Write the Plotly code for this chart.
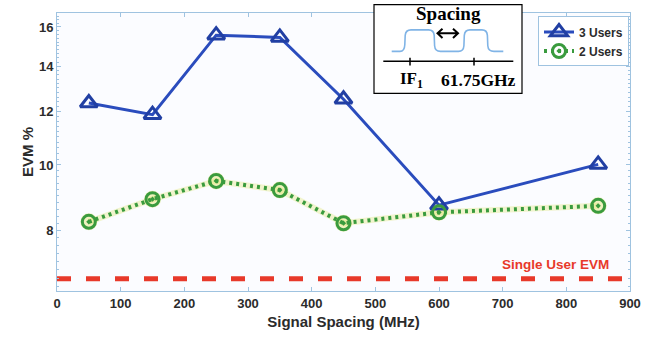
import numpy as np
import plotly.graph_objects as go

# Signal spacing (MHz) and measured EVM (%)
spacing_mhz = [50, 150, 250, 350, 450, 600, 850]
evm_3_users = [12.35, 11.87, 15.56, 15.44, 12.51, 8.72, 10.02]
evm_2_users = [8.24, 8.90, 9.47, 9.18, 8.20, 8.51, 8.70]
single_user_evm = 6.79
x_span = [0, 900]

x_ticks = [0, 100, 200, 300, 400, 500, 600, 700, 800, 900]
y_ticks = [8, 10, 12, 14, 16]

W, H = 653, 339
ML, MR, MT, MB = 57, 23, 13, 46
PW, PH = W - ML - MR, H - MT - MB

BLUE = "#2a4cbd"
GREEN = "#3a9b3e"
RED = "#e8392a"
FRAME = "#9fc3e0"
LABEL = "#2b2b2b"
SANS = "Liberation Sans, Arial, sans-serif"
SERIF = "Liberation Serif, Times New Roman, serif"


def px(x):
    return (x - ML) / PW


def py(y):
    return (MT + PH - y) / PH


def paper_path(segments):
    """Build an SVG path in paper units from (cmd, x, y, ...) pixel tuples."""
    parts = []
    for seg in segments:
        cmd, coords = seg[0], seg[1:]
        pts = [f"{px(coords[i]):.5f},{py(coords[i + 1]):.5f}"
               for i in range(0, len(coords), 2)]
        parts.append(cmd + " ".join(pts))
    return " ".join(parts)


fig = go.Figure()

# faint yellow fringe under the 2-user curve
fig.add_trace(go.Scatter(
    x=spacing_mhz, y=evm_2_users, mode="lines+markers", showlegend=False,
    hoverinfo="skip",
    line=dict(color="rgba(220,225,90,0.3)", width=6),
    marker=dict(symbol="circle", size=17, color="rgba(225,228,110,0.45)",
                line=dict(width=0)),
))

fig.add_trace(go.Scatter(
    x=spacing_mhz, y=evm_3_users, mode="lines+markers", name="3 Users",
    line=dict(color=BLUE, width=3),
    marker=dict(symbol="triangle-up-open", size=15, color="#213fa3",
                line=dict(width=3)),
))

fig.add_trace(go.Scatter(
    x=spacing_mhz, y=evm_2_users, mode="lines+markers", name="2 Users",
    line=dict(color=GREEN, width=4, dash="3px,4px"),
    marker=dict(symbol="circle-open-dot", size=13, color=GREEN,
                line=dict(width=3)),
))

fig.add_trace(go.Scatter(
    x=x_span, y=[single_user_evm, single_user_evm], mode="lines",
    showlegend=False, line=dict(color=RED, width=5, dash="14px,15px"),
))

fig.add_annotation(
    xref="paper", yref="paper", x=px(611), y=py(266), xanchor="right",
    yanchor="middle", text="Single User EVM", showarrow=False,
    font=dict(family=SANS, size=13.5, color=RED, weight="bold"),
)

# inset sketch: two channels separated by the signal spacing
shapes = [
    dict(type="rect", xref="paper", yref="paper",
         x0=px(374), x1=px(522), y0=py(94), y1=py(4.5),
         line=dict(color="black", width=1.2), fillcolor="white", layer="above"),
]

band = [
    ("M", 391.7, 51.7), ("L", 400, 51.7), ("Q", 404.5, 51.7, 404.8, 45),
    ("L", 405.2, 35.5), ("Q", 405.6, 30, 411, 30), ("L", 428.5, 30),
    ("Q", 433.8, 30, 434.2, 35.5), ("L", 434.6, 46), ("Q", 435, 51.7, 440.5, 51.7),
    ("L", 458.5, 51.7), ("Q", 463.5, 51.7, 463.9, 46), ("L", 464.3, 35.5),
    ("Q", 464.7, 30, 470, 30), ("L", 482, 30), ("Q", 487, 30, 487.4, 35.5),
    ("L", 487.8, 46), ("Q", 488.2, 51.7, 494, 51.7), ("L", 503.3, 51.7),
]
shapes.append(dict(type="path", xref="paper", yref="paper",
                   path=paper_path(band),
                   line=dict(color="#80b4e6", width=1.6), layer="above"))

# double-headed arrow marking the spacing
arrow = [
    ("M", 437.5, 33.5), ("L", 458, 33.5),
    ("M", 442.5, 28.8), ("L", 437.5, 33.5), ("L", 442.5, 38.2),
    ("M", 453, 28.8), ("L", 458, 33.5), ("L", 453, 38.2),
]
shapes.append(dict(type="path", xref="paper", yref="paper",
                   path=paper_path(arrow),
                   line=dict(color="black", width=2), layer="above"))

shapes.append(dict(type="line", xref="paper", yref="paper",
                   x0=px(383.3), x1=px(513.3), y0=py(61.7), y1=py(61.7),
                   line=dict(color="black", width=1.5), layer="above"))
for tx in (410, 474):
    shapes.append(dict(type="line", xref="paper", yref="paper",
                       x0=px(tx), x1=px(tx), y0=py(58), y1=py(66),
                       line=dict(color="black", width=1.5), layer="above"))

fig.add_annotation(xref="paper", yref="paper", x=px(448), y=py(14),
                   text="Spacing", showarrow=False, xanchor="center",
                   yanchor="middle",
                   font=dict(family=SERIF, size=19, color="black", weight="bold"))
fig.add_annotation(xref="paper", yref="paper", x=px(411), y=py(80),
                   text="IF<sub>1</sub>", showarrow=False, xanchor="center",
                   yanchor="middle",
                   font=dict(family=SERIF, size=17, color="black", weight="bold"))
fig.add_annotation(xref="paper", yref="paper", x=px(478.5), y=py(80),
                   text="61.75GHz", showarrow=False, xanchor="center",
                   yanchor="middle",
                   font=dict(family=SERIF, size=17.5, color="black", weight="bold"))

minor_y = [round(v, 2) for v in np.arange(6.6, 16.8, 0.2)]

fig.update_layout(
    width=W, height=H,
    margin=dict(l=ML, r=MR, t=MT, b=MB),
    paper_bgcolor="white", plot_bgcolor="#fbfcff",
    shapes=shapes,
    showlegend=True,
    legend=dict(
        x=px(538), y=py(16.5), xanchor="left", yanchor="top",
        bgcolor="rgba(255,255,255,0.9)", bordercolor=FRAME, borderwidth=1,
        font=dict(family=SANS, size=12, color=LABEL, weight="bold"),
        tracegroupgap=0, itemwidth=30,
    ),
    xaxis=dict(
        range=[x_span[0], x_span[1]], tickmode="array", tickvals=x_ticks,
        ticks="inside", ticklen=4, tickcolor=FRAME, showgrid=False,
        zeroline=False, showline=True, linecolor=FRAME, linewidth=1,
        mirror="ticks",
        tickfont=dict(family=SANS, size=13, color=LABEL, weight="bold"),
        title=dict(text="Signal Spacing (MHz)", standoff=6,
                   font=dict(family=SANS, size=15, color=LABEL, weight="bold")),
    ),
    yaxis=dict(
        type="log", range=[np.log10(6.51), np.log10(16.78)],
        tickmode="array", tickvals=y_ticks, ticktext=[str(v) for v in y_ticks],
        ticks="inside", ticklen=4, tickcolor=FRAME, showgrid=False,
        zeroline=False, showline=True, linecolor=FRAME, linewidth=1,
        mirror="ticks",
        minor=dict(tickmode="array", tickvals=minor_y, ticks="inside",
                   ticklen=2, tickcolor=FRAME, showgrid=False),
        tickfont=dict(family=SANS, size=13, color=LABEL, weight="bold"),
        title=dict(text="EVM %", standoff=1,
                   font=dict(family=SANS, size=15, color=LABEL, weight="bold")),
    ),
)

fig.write_html("out.html")
